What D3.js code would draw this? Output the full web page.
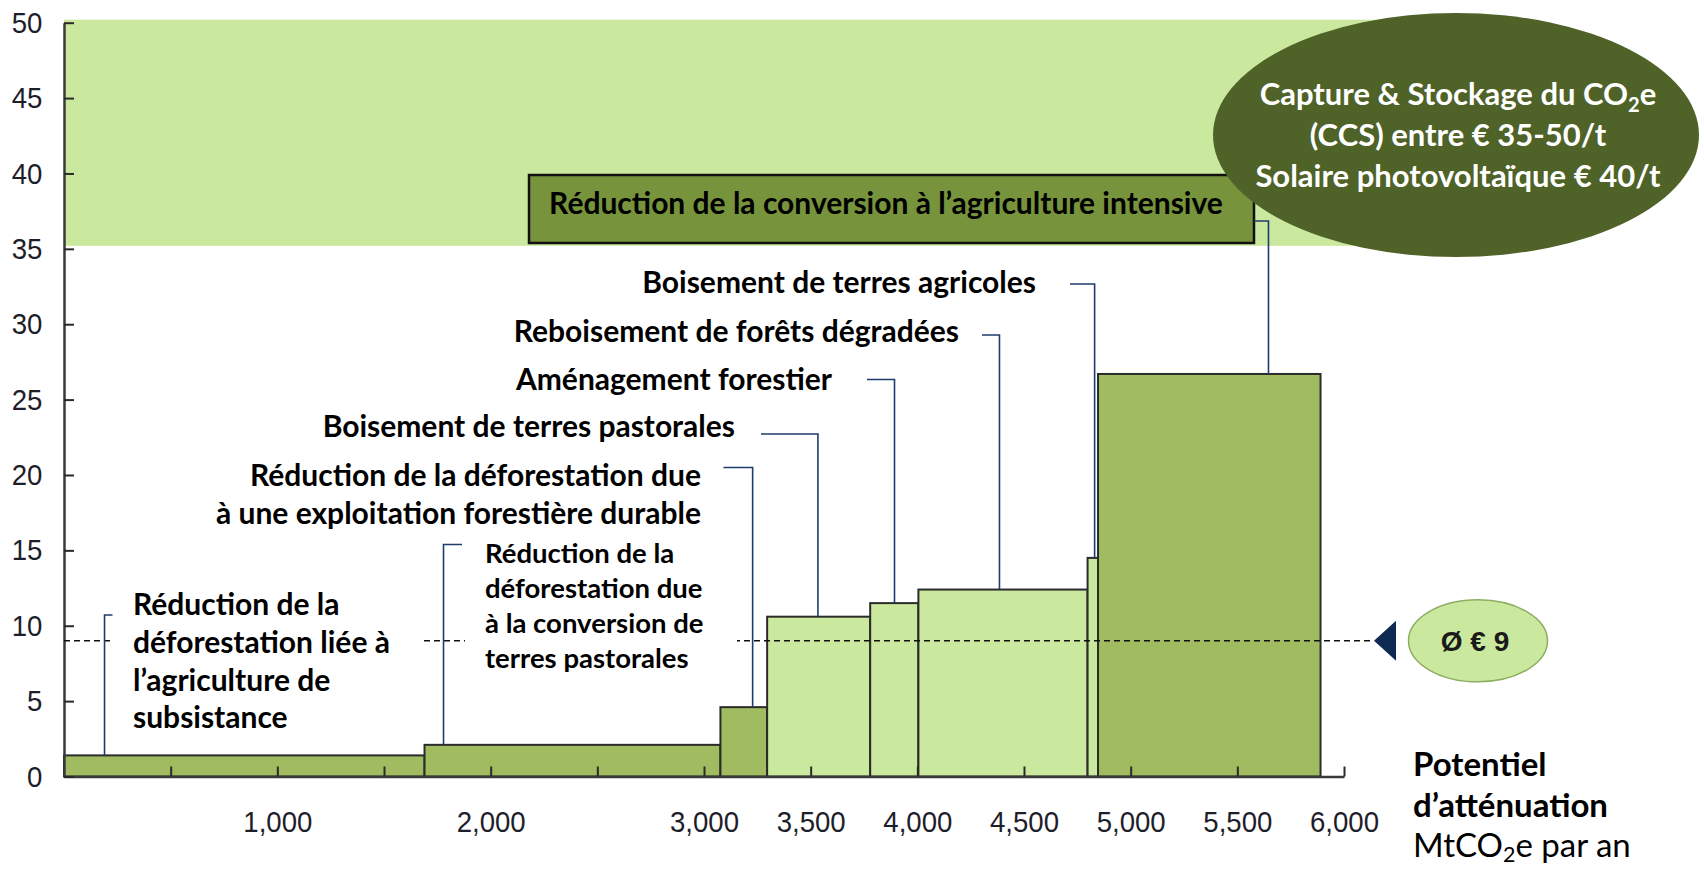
<!DOCTYPE html>
<html>
<head>
<meta charset="utf-8">
<script src="https://cdn.jsdelivr.net/npm/d3@7"></script>
<style>
  body { margin: 0; background: #fff; }
  svg { display: block; }
</style>
</head>
<body>
<div id="chart"></div>
<script>
// --- data (order of increasing cost) ---
const measures = [
  'subsistance', 'pastorales', 'exploitation', 'boisementPast',
  'amenagement', 'reboisement', 'boisementAgri', 'intensive'
];
const potentials = [1690, 1387, 219, 483, 226, 793, 49, 1043];   // MtCO2e par an
const costs = [1.4, 2.1, 4.6, 10.6, 11.5, 12.4, 14.5, 26.7];      // € / t
const tones = ['dark', 'dark', 'dark', 'light', 'light', 'light', 'light', 'dark'];
const leaderAt = [190, 1779, 3228, 3534, 3893, 4385, 4831, 5646]; // where each leader meets its bar
const labelLines = [
  ['Réduction de la', 'déforestation liée à', 'l’agriculture de', 'subsistance'],
  ['Réduction de la', 'déforestation due', 'à la conversion de', 'terres pastorales'],
  ['Réduction de la déforestation due', 'à une exploitation forestière durable'],
  ['Boisement de terres pastorales'],
  ['Aménagement forestier'],
  ['Reboisement de forêts dégradées'],
  ['Boisement de terres agricoles'],
  ['Réduction de la conversion à l’agriculture intensive']
];
const averageCost = 9;
const averageLabel = 'Ø € 9';
const altBand = [35.2, 50.2];
const altLines = ['Capture & Stockage du CO₂e', '(CCS) entre € 35-50/t', 'Solaire photovoltaïque € 40/t'];
const yTicks = d3.range(0, 51, 5);
const xTicks = d3.range(500, 6001, 500);
const xTickLabels = [1000, 2000, 3000, 3500, 4000, 4500, 5000, 5500, 6000];
const xTitle = ['Potentiel', 'd’atténuation', 'MtCO₂e par an'];

// --- layout of the annotations (pixels) ---
const labelLayout = [
  { x: 133, y: 615, anchor: 'start', size: 30, lh: 37.8, hookX: 112.5, hookY: 615, mask: [113, 421, 588, 742] },
  { x: 485, y: 563, anchor: 'start', size: 27.5, lh: 35, hookX: 462, hookY: 544.5, mask: [465, 737, 537, 680] },
  { x: 701, y: 486, anchor: 'end', size: 30, lh: 37.6, hookX: 723.5, hookY: 467.5 },
  { x: 735, y: 437, anchor: 'end', size: 30, lh: 0, hookX: 761, hookY: 434 },
  { x: 832, y: 390, anchor: 'end', size: 30, lh: 0, hookX: 867, hookY: 379.5 },
  { x: 959, y: 342, anchor: 'end', size: 30, lh: 0, hookX: 982, hookY: 335 },
  { x: 1036, y: 293, anchor: 'end', size: 30, lh: 0, hookX: 1070, hookY: 284 },
  { x: 886, y: 213.5, anchor: 'middle', size: 30, lh: 0, hookX: 1254, hookY: 221, box: [529, 175, 725, 68] }
];

const width = 1704, height = 869;
const darkGreen = '#a0bb60', lightGreen = '#cbe99e', leaderColor = '#1f3c6e';
const labelFont = 'Lato, "Open Sans", sans-serif';
const axisFont = '"Liberation Sans", Arial, sans-serif';
const squeeze = 0.92; // tick digits are a bit narrow in the original

const x = d3.scaleLinear().domain([0, 6000]).range([64, 1344]);
const y = d3.scaleLinear().domain([0, 50]).range([776.5, 22.7]);

const svg = d3.select('#chart').append('svg')
  .attr('width', width)
  .attr('height', height)
  .attr('viewBox', `0 0 ${width} ${height}`);

// writes a string, turning ₂ into a lowered small 2
function richText(sel, str, size, drop) {
  const parts = str.split('₂');
  parts.forEach((p, i) => {
    if (i > 0) {
      sel.append('tspan').attr('font-size', size * 0.65).attr('dy', size * drop).text('2');
      sel.append('tspan').attr('dy', -size * drop).text(p);
    } else {
      sel.append('tspan').text(p);
    }
  });
}

// band of the alternative options (CCS, photovoltaic)
svg.append('rect')
  .attr('x', x(0))
  .attr('y', y(altBand[1]))
  .attr('width', 1385 - x(0))
  .attr('height', y(altBand[0]) - y(altBand[1]))
  .attr('fill', lightGreen);

// bars of the cost curve
let acc = 0;
const bars = potentials.map((p, i) => {
  const b = { name: measures[i], x0: acc, x1: acc + p, cost: costs[i], tone: tones[i] };
  acc += p;
  return b;
});

svg.append('g')
  .selectAll('rect')
  .data(bars)
  .enter()
  .append('rect')
  .attr('x', d => x(d.x0))
  .attr('y', d => y(d.cost))
  .attr('width', d => x(d.x1) - x(d.x0))
  .attr('height', d => y(0) - y(d.cost))
  .attr('fill', d => d.tone === 'dark' ? darkGreen : lightGreen)
  .attr('stroke', '#2b2b2b')
  .attr('stroke-width', 2);

// axes
const fmt = d3.format(',');
const xAxis = svg.append('g')
  .attr('transform', `translate(0,${y(0)})`)
  .call(d3.axisBottom(x)
    .tickValues(xTicks)
    .tickSize(-10)
    .tickSizeOuter(0)
    .tickPadding(34)
    .tickFormat(d => xTickLabels.includes(d) ? fmt(d) : ''));

const yAxis = svg.append('g')
  .attr('transform', `translate(${x(0)},0)`)
  .call(d3.axisLeft(y)
    .tickValues(yTicks)
    .tickSize(-10)
    .tickSizeOuter(0)
    .tickPadding(23.5));

[xAxis, yAxis].forEach(g => {
  g.select('.domain').attr('stroke', '#3a3a3a').attr('stroke-width', 2.5);
  g.selectAll('.tick line').attr('stroke', '#2a2a2a').attr('stroke-width', 2);
  g.selectAll('.tick text')
    .attr('font-family', axisFont)
    .attr('font-size', 30)
    .attr('fill', '#1e1e2a')
    .attr('transform', `scale(${squeeze},1)`);
});

// average cost line
const avgY = y(averageCost);
svg.append('line')
  .attr('x1', x(0))
  .attr('x2', 1374)
  .attr('y1', avgY)
  .attr('y2', avgY)
  .attr('stroke', '#111')
  .attr('stroke-width', 1.6)
  .attr('stroke-dasharray', '6,4');

svg.append('path')
  .attr('d', `M1374,${avgY} L1396,${avgY - 20} L1396,${avgY + 20} Z`)
  .attr('fill', '#0e2a52');

svg.append('ellipse')
  .attr('cx', 1478)
  .attr('cy', avgY)
  .attr('rx', 69.5)
  .attr('ry', 41)
  .attr('fill', lightGreen)
  .attr('stroke', '#8eae62')
  .attr('stroke-width', 1.5);

svg.append('text')
  .attr('x', 1475)
  .attr('y', avgY + 10.5)
  .attr('text-anchor', 'middle')
  .attr('font-family', axisFont)
  .attr('font-weight', 'bold')
  .attr('font-size', 28)
  .attr('fill', '#1a1a1a')
  .text(averageLabel);

// labels and leaders
const ann = svg.append('g');
labelLayout.forEach((l, i) => {
  const bar = bars[i];
  if (l.mask) {
    ann.append('rect')
      .attr('x', l.mask[0]).attr('y', l.mask[2])
      .attr('width', l.mask[1] - l.mask[0]).attr('height', l.mask[3] - l.mask[2])
      .attr('fill', '#fff');
  }
  if (l.box) {
    ann.append('rect')
      .attr('x', l.box[0]).attr('y', l.box[1])
      .attr('width', l.box[2]).attr('height', l.box[3])
      .attr('fill', '#77933c')
      .attr('stroke', '#111')
      .attr('stroke-width', 2.5);
  }
  const t = ann.append('text')
    .attr('font-family', labelFont)
    .attr('font-weight', 700)
    .attr('font-size', l.size)
    .attr('fill', '#000')
    .attr('text-anchor', l.anchor);
  labelLines[i].forEach((line, j) => {
    t.append('tspan')
      .attr('x', l.x)
      .attr('y', l.y + j * l.lh)
      .text(line);
  });
  ann.append('path')
    .attr('d', `M${l.hookX},${l.hookY} H${x(leaderAt[i])} V${y(bar.cost)}`)
    .attr('fill', 'none')
    .attr('stroke', leaderColor)
    .attr('stroke-width', 1.6);
});

// alternative options bubble
svg.append('ellipse')
  .attr('cx', 1456)
  .attr('cy', 135)
  .attr('rx', 243)
  .attr('ry', 122)
  .attr('fill', '#4f6228');

const alt = svg.append('text')
  .attr('font-family', labelFont)
  .attr('font-weight', 700)
  .attr('font-size', 31)
  .attr('fill', '#fff')
  .attr('text-anchor', 'middle');
altLines.forEach((line, j) => {
  const row = alt.append('tspan').attr('x', 1458).attr('y', 105 + j * 41);
  richText(row, line, 31, 0.22);
});

// x axis title
const title = svg.append('text')
  .attr('font-family', labelFont)
  .attr('font-size', 33)
  .attr('fill', '#000');
xTitle.forEach((line, j) => {
  const row = title.append('tspan')
    .attr('x', 1413)
    .attr('y', 776 + j * 40.5)
    .attr('font-weight', j < 2 ? 700 : 400);
  richText(row, line, 33, 0.15);
});
</script>
</body>
</html>
